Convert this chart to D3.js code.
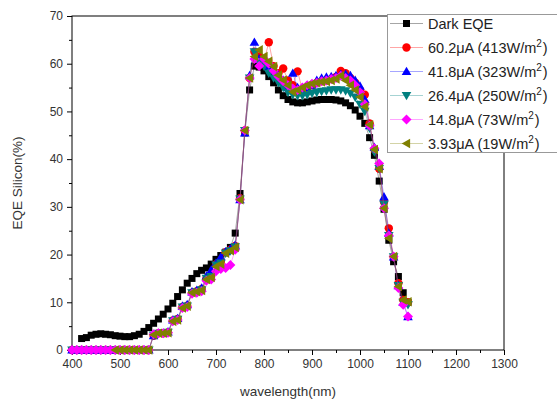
<!DOCTYPE html>
<html><head><meta charset="utf-8">
<script src="https://cdn.jsdelivr.net/npm/d3@7"></script>
<style>body{margin:0;background:#fff;}svg{display:block;font-family:"Liberation Sans",Arial,sans-serif;}</style>
</head><body><svg id="c" width="557" height="403"></svg>
<script>
const wavelengths = [400,410,420,430,440,450,460,470,480,490,500,510,520,530,540,550,560,570,580,590,600,610,620,630,640,650,660,670,680,690,700,710,720,730,740,750,760,770,780,790,800,810,820,830,840,850,860,870,880,890,900,910,920,930,940,950,960,970,980,990,1000,1010,1020,1030,1040,1050,1060,1070,1080,1090,1100];
const darkEQE = [null,null,2.4,2.6,3.1,3.3,3.4,3.3,3.2,3.0,2.9,2.8,2.8,3.0,3.3,3.9,4.7,5.6,6.5,7.5,8.6,9.8,11.2,12.6,14.0,15.0,16.0,16.7,17.2,18.0,19.0,19.8,20.5,21.5,24.5,32.8,45.5,54.5,59.5,59.3,58.5,57.3,56.0,54.5,53.3,52.5,52.0,51.8,51.8,52.0,52.2,52.4,52.5,52.5,52.5,52.4,52.2,51.8,51.2,50.3,49.0,47.5,44.5,40.8,35.4,29.5,23.0,18.5,15.4,12.0,10.0];
const s60 = [0,0,0,0,0,0,0,0,0,0,0,0,0,0,0,0,0,3.0,3.5,3.5,3.7,6.2,6.5,9.0,9.3,12.0,12.3,12.8,15.0,15.5,18.0,18.5,20.5,21.0,21.8,31.8,46.0,57.0,62.5,61.5,60.5,64.5,59.5,58.0,59.0,56.5,55.5,58.4,54.5,55.0,55.5,56.0,56.3,56.5,56.8,57.2,58.5,58.0,57.0,56.0,54.5,53.5,47.5,42.0,38.0,31.0,25.5,19.5,14.0,10.5,10.0];
const s41 = [0,0,0,0,0,0,0,0,0,0,0,0,0,0,0,0,0,3.0,3.5,3.5,3.8,6.3,6.6,9.2,9.5,12.2,12.5,13.0,15.5,16.8,18.2,19.5,20.6,21.2,22.0,31.5,45.5,57.5,64.5,61.0,60.0,59.5,58.5,57.5,56.5,55.0,58.0,55.0,54.5,55.0,55.5,56.5,57.0,57.2,57.3,57.5,57.8,57.8,57.5,56.5,55.3,52.5,47.0,42.5,38.5,32.1,24.5,19.5,13.5,10.0,7.0];
const s26 = [0,0,0,0,0,0,0,0,0,0,0,0,0,0,0,0,0,3.1,3.5,3.5,3.7,6.1,6.4,9.0,9.2,12.0,12.2,12.6,15.0,15.4,17.8,18.2,20.3,20.8,21.6,31.6,46.0,57.0,62.5,60.5,59.5,58.0,57.0,56.0,55.0,54.0,53.5,53.3,53.3,53.5,53.8,54.0,54.2,54.3,54.5,54.5,54.5,54.3,53.8,53.0,51.5,50.0,46.5,41.5,38.0,30.5,24.0,19.5,13.5,10.0,9.5];
const s14 = [0,0,0,0,0,0,0,0,0,0,0,0,0,0,0,0,0,3.3,3.5,3.5,3.6,6.0,6.3,8.8,9.0,11.8,12.0,12.3,14.5,14.8,16.5,17.0,17.2,17.8,21.0,31.5,46.0,57.0,61.0,59.5,61.0,60.0,58.5,57.3,56.3,55.5,54.8,54.5,55.0,55.5,55.8,56.0,56.3,56.5,56.8,57.0,57.5,57.0,56.5,55.5,54.0,51.5,47.0,42.3,39.1,29.7,24.0,19.6,13.0,9.5,7.0];
const s3 = [null,null,null,null,null,null,null,null,null,0,0,0,0,0,0,0,0,3.2,3.5,3.5,3.6,6.0,6.3,8.8,9.2,12.0,12.2,12.5,14.8,15.2,17.5,18.0,20.3,20.8,21.5,31.5,46.0,57.0,61.5,62.9,61.5,60.5,59.4,57.6,56.6,55.5,54.1,54.5,55.0,55.5,55.8,56.0,56.2,56.3,56.5,56.8,57.5,56.5,55.5,54.5,53.0,51.0,47.2,42.0,38.0,29.7,23.4,19.6,13.3,10.5,10.1];
const seriesNames = ["Dark EQE","60.2μA (413W/m","41.8μA (323W/m","26.4μA (250W/m","14.8μA (73W/m","3.93μA (19W/m"];
const seriesColors = ["#000000","#ff0000","#0000ff","#008080","#ff00ff","#808000"];
const seriesShapes = ["square","circle","triUp","triDown","diamond","triLeft"];
const seriesValues = [darkEQE,s60,s41,s26,s14,s3];
const xTicks = [400,500,600,700,800,900,1000,1100,1200,1300];
const yTicks = [0,10,20,30,40,50,60,70];

const svg = d3.select("#c");
const L=72,R=504,T=16,B=350;
const x = d3.scaleLinear().domain([400,1300]).range([L,R]);
const y = d3.scaleLinear().domain([0,70]).range([B,T]);

svg.append("rect").attr("x",L).attr("y",T).attr("width",R-L).attr("height",B-T).attr("fill","none").attr("stroke","#000").attr("stroke-width",1);

const xAx = svg.append("g").attr("transform",`translate(0,${B})`).call(d3.axisBottom(x).tickValues(xTicks).tickSize(5).tickPadding(4).tickFormat(d3.format("d")));
const xMin = svg.append("g").attr("transform",`translate(0,${B})`).call(d3.axisBottom(x).tickValues(xTicks.slice(0,-1).map(v=>v+50)).tickSize(3).tickFormat(""));
const yAx = svg.append("g").attr("transform",`translate(${L},0)`).call(d3.axisLeft(y).tickValues(yTicks).tickSize(5).tickPadding(4));
const yMin = svg.append("g").attr("transform",`translate(${L},0)`).call(d3.axisLeft(y).tickValues(yTicks.slice(0,-1).map(v=>v+5)).tickSize(3).tickFormat(""));
[xAx,xMin,yAx,yMin].forEach(g=>{g.select(".domain").remove();g.selectAll("line").attr("stroke","#000");g.selectAll("text").attr("font-size",12).attr("fill","#333").attr("font-family","Liberation Sans, Arial, sans-serif");});

svg.append("text").attr("x",(L+R)/2).attr("y",396).attr("text-anchor","middle").attr("font-size",13.5).attr("fill","#333").text("wavelength(nm)");
svg.append("text").attr("transform",`translate(22,${(T+B)/2}) rotate(-90)`).attr("text-anchor","middle").attr("font-size",13.5).attr("fill","#333").text("EQE Silicon(%)");

function marker(g,shape,color){
  const s=4.2;
  if(shape==="square") g.append("rect").attr("x",-3.5).attr("y",-3.5).attr("width",7).attr("height",7).attr("fill",color);
  else if(shape==="circle") g.append("circle").attr("r",4.2).attr("fill",color);
  else {
    let p;
    if(shape==="triUp") p=[[0,-s-0.6],[s+0.6,s-0.6],[-s-0.6,s-0.6]];
    else if(shape==="triDown") p=[[0,s+0.6],[s+0.6,-s+0.6],[-s-0.6,-s+0.6]];
    else if(shape==="diamond") p=[[0,-s-0.8],[s+0.8,0],[0,s+0.8],[-s-0.8,0]];
    else p=[[-s-0.6,0],[s-0.6,-s-0.6],[s-0.6,s+0.6]];
    g.append("path").attr("d","M"+p.map(q=>q.join(",")).join("L")+"Z").attr("fill",color);
  }
}

const plot = svg.append("g");
seriesValues.forEach((vals,i)=>{
  const pts = wavelengths.map((w,j)=>({w,v:vals[j]})).filter(d=>d.v!=null);
  const line = d3.line().x(d=>x(d.w)).y(d=>y(d.v));
  plot.append("path").attr("d",line(pts)).attr("fill","none").attr("stroke",seriesColors[i]).attr("stroke-opacity",0.35).attr("stroke-width",1);
  pts.forEach(d=>{
    const g=plot.append("g").attr("transform",`translate(${x(d.w)},${y(d.v)})`);
    marker(g,seriesShapes[i],seriesColors[i]);
  });
});

const lg = svg.append("g");
lg.append("rect").attr("x",387.5).attr("y",14.5).attr("width",175).attr("height",138).attr("fill","#fff").attr("stroke","#999").attr("stroke-width",1);
seriesNames.forEach((n,i)=>{
  const cy = 23.5 + i*24;
  lg.append("line").attr("x1",390).attr("x2",423).attr("y1",cy).attr("y2",cy).attr("stroke",seriesColors[i]).attr("stroke-opacity",0.35);
  const g=lg.append("g").attr("transform",`translate(406.5,${cy})`);
  marker(g,seriesShapes[i],seriesColors[i]);
  const t=lg.append("text").attr("x",428).attr("y",cy+5).attr("font-size",14.5).attr("fill","#222").text(n);
  if(i>0){
    t.append("tspan").attr("dy",-6).attr("font-size",10).text("2");
    t.append("tspan").attr("dy",6).attr("dx",1).text(")");
  }
});
</script></body></html>
